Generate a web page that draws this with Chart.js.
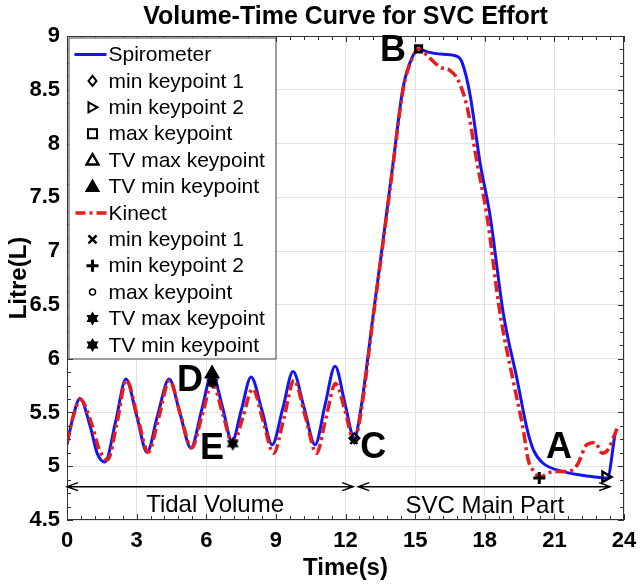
<!DOCTYPE html>
<html>
<head>
<meta charset="utf-8">
<script src="https://cdn.jsdelivr.net/npm/chart.js@4"></script>
<style>
  html, body { margin: 0; padding: 0; background: #fff; }
</style>
</head>
<body>
<canvas id="c" width="641" height="588"></canvas>
<script>
/* Volume-time curve, spirometer vs kinect */

const X_TICKS = [0, 3, 6, 9, 12, 15, 18, 21, 24];
const Y_TICKS = [4.5, 5, 5.5, 6, 6.5, 7, 7.5, 8, 8.5, 9];

const SPIRO_T = [0, 0.25, 0.56, 1.0, 1.3, 1.64, 2.1, 2.54, 3.0, 3.45, 3.9, 4.4, 4.87, 5.34, 5.8, 6.25, 6.7, 7.11,
  7.52, 7.93, 8.4, 8.84, 9.3, 9.74, 10.22, 10.69, 11.12, 11.55, 11.98, 12.38, 12.63, 13.19, 13.62, 14.05, 14.48,
  14.87, 15.15, 15.56, 16.2, 16.81, 17.03, 17.37, 17.8, 18.23, 18.8, 19.4, 19.83, 20.1, 20.5, 21.4, 22.4, 23.28, 23.62];
const SPIRO_V = [5.20, 5.45, 5.63, 5.37, 5.12, 5.04, 5.42, 5.81, 5.47, 5.13, 5.47, 5.81, 5.49, 5.17, 5.52, 5.86, 5.55, 5.23,
  5.53, 5.83, 5.52, 5.20, 5.54, 5.88, 5.54, 5.20, 5.57, 5.93, 5.58, 5.26, 5.49, 6.40, 7.10, 7.82, 8.52,
  8.80, 8.88, 8.85, 8.83, 8.81, 8.75, 8.45, 7.82, 7.33, 6.42, 5.80, 5.34, 5.15, 5.03, 4.95, 4.91, 4.89, 5.31];

const KIN_T = [0, 0.25, 0.58, 1.05, 1.4, 1.75, 2.15, 2.56, 3.05, 3.5, 3.95, 4.42, 4.9, 5.37, 5.82, 6.26, 6.72, 7.15,
  7.57, 8.0, 8.45, 8.9, 9.35, 9.78, 10.27, 10.75, 11.15, 11.57, 12.0, 12.36, 12.63, 13.19, 13.62, 14.05, 14.48,
  14.87, 15.15, 15.6, 16.08, 16.5, 16.85, 17.24, 17.67, 18.1, 18.66, 19.22, 19.66, 19.87, 20.17, 20.35, 20.95,
  21.55, 21.98, 22.4, 22.76, 23.06, 23.3, 23.7];
const KIN_V = [5.22, 5.45, 5.62, 5.40, 5.15, 5.06, 5.40, 5.80, 5.45, 5.13, 5.45, 5.80, 5.47, 5.17, 5.47, 5.77, 5.48, 5.20,
  5.45, 5.72, 5.42, 5.12, 5.45, 5.80, 5.46, 5.12, 5.44, 5.77, 5.50, 5.23, 5.45, 6.38, 7.08, 7.80, 8.50,
  8.79, 8.88, 8.80, 8.71, 8.68, 8.59, 8.34, 7.82, 7.32, 6.42, 5.80, 5.34, 5.06, 4.94, 4.90, 4.95,
  4.95, 5.01, 5.20, 5.22, 5.12, 5.15, 5.35];

// keypoints, [time, litre]
const SPIRO_MIN1 = [[12.38, 5.26]];
const SPIRO_MIN2 = [[23.2, 4.90]];
const SPIRO_MAX = [[15.15, 8.88]];
const SPIRO_TV_MAX = [[6.25, 5.86]];
const SPIRO_TV_MIN = [[6.25, 5.86]];
const KIN_MIN1 = [[12.36, 5.24]];
const KIN_MIN2 = [[20.35, 4.89]];
const KIN_MAX = [[15.15, 8.88]];
const KIN_TV_MAX = [[6.27, 5.78]];
const KIN_TV_MIN = [[7.14, 5.21]];

const LEGEND_LABELS = ['Spirometer', 'min keypoint 1', 'min keypoint 2', 'max keypoint', 'TV max keypoint',
  'TV min keypoint', 'Kinect', 'min keypoint 1', 'min keypoint 2', 'max keypoint', 'TV max keypoint', 'TV min keypoint'];

// letters: [text, time, litre]
const LETTERS = [['B', 14.05, 8.86], ['D', 5.3, 5.79], ['E', 6.25, 5.16], ['C', 13.2, 5.17], ['A', 21.2, 5.17]];
// phase arrows: [from, to, litre] and captions
const PHASES = [[0, 12.33, 4.81], [12.55, 23.4, 4.81]];
const PHASE_TEXT = [['Tidal Volume', 6.38, 4.64], ['SVC Main Part', 18.0, 4.63]];

const BLUE = '#1414f0';
const RED = '#e81c1c';
const SANS = '"Liberation Sans", Arial, sans-serif';

const pairs = (ts, vs) => ts.map((t, i) => ({ x: t, y: vs[i] }));
const pts = arr => arr.map(p => ({ x: p[0], y: p[1] }));

function hexagram(size) {
  const c = document.createElement('canvas');
  c.width = size; c.height = size;
  const g = c.getContext('2d');
  drawHex(g, size / 2, size / 2, size / 2);
  return c;
}
function drawHex(g, cx, cy, r) {
  g.fillStyle = '#000';
  for (const rot of [-Math.PI / 2, Math.PI / 2]) {
    g.beginPath();
    for (let k = 0; k < 3; k++) {
      const a = rot + k * 2 * Math.PI / 3;
      const px = cx + r * Math.cos(a), py = cy + r * Math.sin(a);
      k ? g.lineTo(px, py) : g.moveTo(px, py);
    }
    g.closePath(); g.fill();
  }
}
const STAR = hexagram(14);

function marker(data, style, extra) {
  return Object.assign({
    data: pts(data), showLine: false, pointStyle: style, order: 0,
    pointBorderColor: '#000', pointBackgroundColor: 'rgba(0,0,0,0)', pointBorderWidth: 2,
    pointRadius: 5, pointHoverRadius: 5,
  }, extra || {});
}

const datasets = [
  { data: pairs(SPIRO_T, SPIRO_V), borderColor: BLUE, borderWidth: 3, pointRadius: 0, order: 2,
    cubicInterpolationMode: 'monotone' },
  { data: pairs(KIN_T, KIN_V), borderColor: RED, borderWidth: 3.5, borderDash: [11, 4, 3, 4], pointRadius: 0, order: 1,
    cubicInterpolationMode: 'monotone' },
  marker(SPIRO_MIN1, 'rectRot', { pointRadius: 5 }),
  marker(SPIRO_MIN2, 'triangle', { pointRotation: 90, pointRadius: 6, pointBorderWidth: 2.5 }),
  marker(SPIRO_MAX, 'rect', { pointRadius: 5 }),
  marker(SPIRO_TV_MAX, 'triangle', { pointRadius: 7 }),
  marker(SPIRO_TV_MIN, 'triangle', { pointRadius: 7, pointBackgroundColor: '#000' }),
  marker(KIN_MIN1, 'crossRot', { pointRadius: 5, pointBorderWidth: 2.5 }),
  marker(KIN_MIN2, 'cross', { pointRadius: 6, pointBorderWidth: 3 }),
  marker(KIN_MAX, 'circle', { pointRadius: 3, pointBorderWidth: 1.5 }),
  marker(KIN_TV_MAX, STAR),
  marker(KIN_TV_MIN, STAR),
];

// box frame + inward major/minor ticks
const framePlugin = {
  id: 'frame',
  afterDatasetsDraw(chart) {
    const { ctx, chartArea: a, scales: { x, y } } = chart;
    ctx.save();
    ctx.strokeStyle = '#333';
    ctx.lineWidth = 1;
    ctx.beginPath();
    const tick = (px, isX, len) => {
      if (isX) {
        ctx.moveTo(px, a.bottom); ctx.lineTo(px, a.bottom - len);
        ctx.moveTo(px, a.top); ctx.lineTo(px, a.top + len);
      } else {
        ctx.moveTo(a.left, px); ctx.lineTo(a.left + len, px);
        ctx.moveTo(a.right, px); ctx.lineTo(a.right - len, px);
      }
    };
    for (let i = 0; i <= 40; i++) tick(Math.round(x.getPixelForValue(i * 0.6)) + 0.5, true, i % 5 ? 4 : 6);
    for (let i = 0; i <= 36; i++) tick(Math.round(y.getPixelForValue(4.5 + i * 0.125)) + 0.5, false, i % 4 ? 4 : 6);
    ctx.stroke();
    ctx.strokeRect(a.left + 0.5, a.top + 0.5, a.right - a.left - 1, a.bottom - a.top - 1);
    ctx.restore();
  },
};

const annotatePlugin = {
  id: 'annotate',
  afterDatasetsDraw(chart) {
    const { ctx, scales: { x, y } } = chart;
    ctx.save();
    ctx.strokeStyle = '#000';
    ctx.fillStyle = '#000';
    ctx.lineWidth = 1.5;
    PHASES.forEach(([t0, t1, v]) => {
      const x0 = x.getPixelForValue(t0), x1 = x.getPixelForValue(t1), py = y.getPixelForValue(v);
      ctx.beginPath();
      ctx.moveTo(x0, py); ctx.lineTo(x1, py);
      ctx.moveTo(x0 + 11, py - 4); ctx.lineTo(x0, py); ctx.lineTo(x0 + 11, py + 4);
      ctx.moveTo(x1 - 11, py - 4); ctx.lineTo(x1, py); ctx.lineTo(x1 - 11, py + 4);
      ctx.stroke();
    });
    ctx.textAlign = 'center';
    ctx.textBaseline = 'middle';
    ctx.font = '24px ' + SANS;
    PHASE_TEXT.forEach(([s, t, v]) => ctx.fillText(s, x.getPixelForValue(t), y.getPixelForValue(v)));
    ctx.font = 'bold 36px ' + SANS;
    LETTERS.forEach(([s, t, v]) => ctx.fillText(s, x.getPixelForValue(t), y.getPixelForValue(v)));
    ctx.restore();
  },
};

function legendSymbol(ctx, i, cx, cy) {
  ctx.save();
  ctx.strokeStyle = '#000';
  ctx.fillStyle = '#000';
  ctx.lineWidth = 2;
  ctx.beginPath();
  switch (i) {
    case 0:
      ctx.strokeStyle = BLUE; ctx.lineWidth = 3;
      ctx.moveTo(cx - 18, cy); ctx.lineTo(cx + 14, cy); ctx.stroke(); break;
    case 6:
      ctx.strokeStyle = RED; ctx.lineWidth = 3.5; ctx.setLineDash([10, 4, 3, 4]);
      ctx.moveTo(cx - 17, cy); ctx.lineTo(cx + 14, cy); ctx.stroke(); break;
    case 1:
      ctx.moveTo(cx, cy - 5); ctx.lineTo(cx + 4, cy); ctx.lineTo(cx, cy + 5); ctx.lineTo(cx - 4, cy);
      ctx.closePath(); ctx.stroke(); break;
    case 2:
      ctx.moveTo(cx - 4, cy - 5); ctx.lineTo(cx + 5, cy); ctx.lineTo(cx - 4, cy + 5);
      ctx.closePath(); ctx.stroke(); break;
    case 3:
      ctx.strokeRect(cx - 4.5, cy - 4.5, 9, 9); break;
    case 4:
    case 5:
      ctx.moveTo(cx, cy - 6); ctx.lineTo(cx + 6, cy + 4.5); ctx.lineTo(cx - 6, cy + 4.5);
      ctx.closePath(); i === 5 ? ctx.fill() : ctx.stroke(); ctx.stroke(); break;
    case 7:
      ctx.lineWidth = 2.5;
      ctx.moveTo(cx - 4, cy - 4); ctx.lineTo(cx + 4, cy + 4);
      ctx.moveTo(cx + 4, cy - 4); ctx.lineTo(cx - 4, cy + 4); ctx.stroke(); break;
    case 8:
      ctx.lineWidth = 3;
      ctx.moveTo(cx - 6, cy); ctx.lineTo(cx + 6, cy);
      ctx.moveTo(cx, cy - 6); ctx.lineTo(cx, cy + 6); ctx.stroke(); break;
    case 9:
      ctx.lineWidth = 1.5;
      ctx.arc(cx, cy, 3, 0, Math.PI * 2); ctx.stroke(); break;
    default:
      drawHex(ctx, cx, cy, 7);
  }
  ctx.restore();
}

const legendPlugin = {
  id: 'boxLegend',
  afterDraw(chart) {
    const { ctx, chartArea: a } = chart;
    const left = a.left + 1.5, top = a.top + 1.5, w = 207, h = 321, rowH = 26.4;
    ctx.save();
    ctx.fillStyle = '#fff';
    ctx.fillRect(left, top, w, h);
    ctx.strokeStyle = '#444';
    ctx.lineWidth = 1;
    ctx.strokeRect(left + 0.5, top + 0.5, w, h);
    ctx.font = '21px ' + SANS;
    ctx.textBaseline = 'middle';
    LEGEND_LABELS.forEach((label, i) => {
      const cy = top + 17 + i * rowH;
      legendSymbol(ctx, i, left + 24, cy);
      ctx.fillStyle = '#000';
      ctx.fillText(label, left + 40, cy + 1);
    });
    ctx.restore();
  },
};

new Chart(document.getElementById('c'), {
  type: 'line',
  data: { datasets },
  options: {
    responsive: false,
    animation: false,
    devicePixelRatio: 1,
    layout: { padding: { left: 0, right: 17, top: 0, bottom: 0 } },
    plugins: {
      legend: { display: false },
      tooltip: { enabled: false },
      title: {
        display: true,
        fullSize: false,
        text: 'Volume-Time Curve for SVC Effort',
        color: '#000',
        font: { family: SANS, size: 25, weight: 'bold', lineHeight: '35px' },
        padding: { top: 0, bottom: 1 },
      },
    },
    scales: {
      x: {
        type: 'linear', min: 0, max: 24,
        afterBuildTicks: s => { s.ticks = X_TICKS.map(v => ({ value: v })); },
        afterFit: s => { s.height = 68; s.paddingLeft = 0; s.paddingRight = 0; },
        grid: { color: '#e3e3e3', drawTicks: false },
        border: { display: false },
        ticks: { color: '#000', padding: 8, maxRotation: 0, font: { family: SANS, size: 22, weight: 'bold' },
          callback: v => String(v) },
        title: { display: true, text: 'Time(s)', color: '#000', padding: { top: 0, bottom: 5 },
          font: { family: SANS, size: 24, weight: 'bold' } },
      },
      y: {
        min: 4.5, max: 9,
        afterBuildTicks: s => { s.ticks = Y_TICKS.map(v => ({ value: v })); },
        afterFit: s => { s.width = 67; s.paddingTop = 0; s.paddingBottom = 0; },
        grid: { color: '#e3e3e3', drawTicks: false },
        border: { display: false },
        ticks: { color: '#000', padding: 7, font: { family: SANS, size: 22, weight: 'bold' },
          callback: v => String(v) },
        title: { display: true, text: 'Litre(L)', color: '#000', padding: { top: 5, bottom: 0 },
          font: { family: SANS, size: 24, weight: 'bold' } },
      },
    },
  },
  plugins: [framePlugin, annotatePlugin, legendPlugin],
});
</script>
</body>
</html>
